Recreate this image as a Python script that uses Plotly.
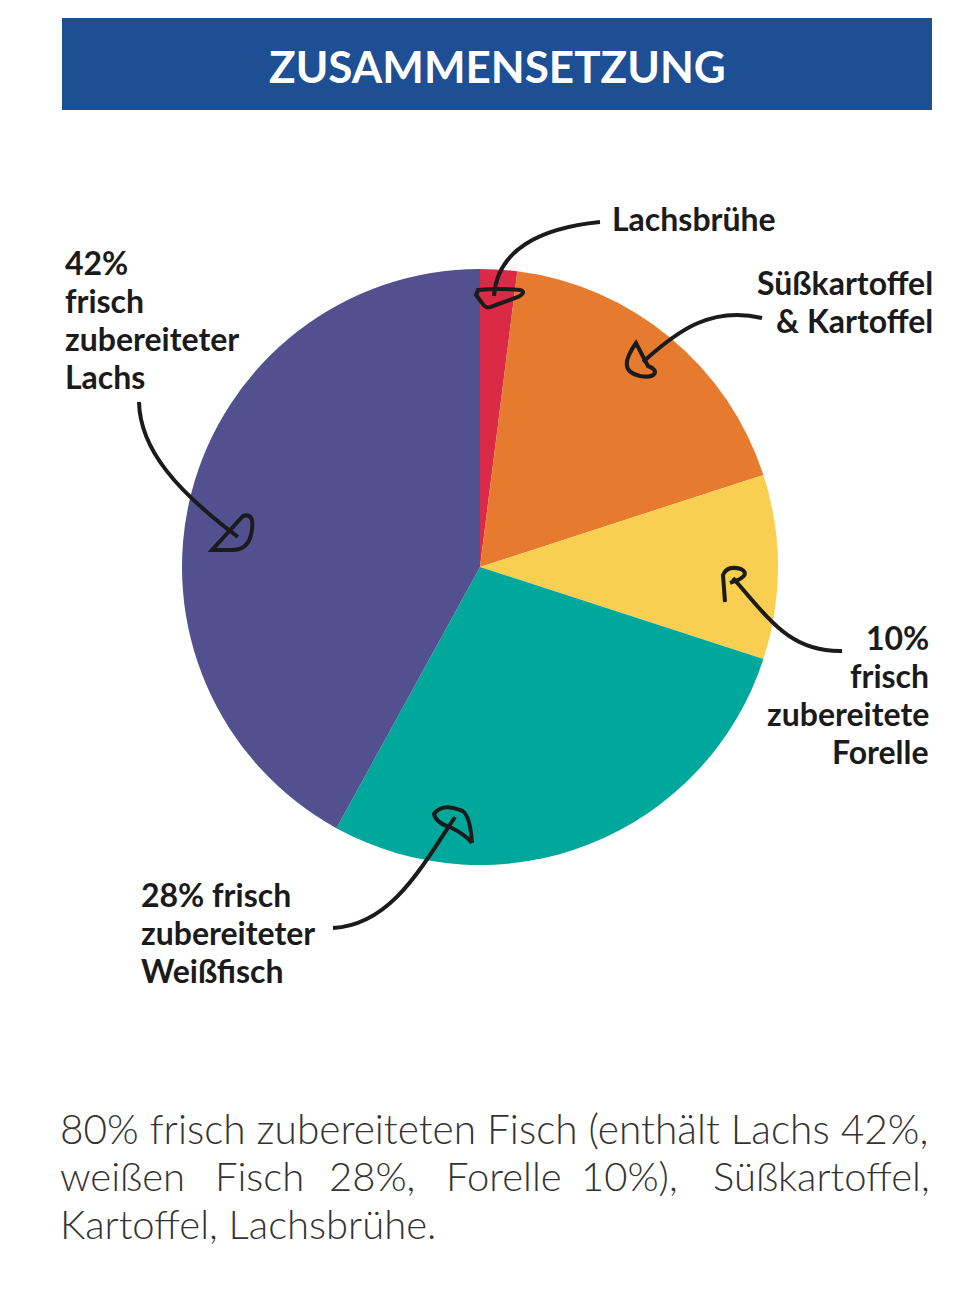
import plotly.graph_objects as go

W, H = 961, 1289
OFF = 8  # browser default body margin

# ---- data ----
categories = ["Lachsbrühe", "Süßkartoffel & Kartoffel", "frisch zubereitete Forelle",
              "frisch zubereiteter Weißfisch", "frisch zubereiteter Lachs"]
values = [2, 18, 10, 28, 42]
colors = ["#DA2A45", "#E67A2E", "#F8CF51", "#00A89C", "#52508E"]

title_text = "ZUSAMMENSETZUNG"
label_brühe = ["Lachsbrühe"]
label_kartoffel = ["Süßkartoffel", "& Kartoffel"]
label_lachs = ["42%", "frisch", "zubereiteter", "Lachs"]
label_forelle = ["10%", "frisch", "zubereitete", "Forelle"]
label_weiss = ["28% frisch", "zubereiteter", "Weißfisch"]
footer_line1 = "80% frisch zubereiteten Fisch (enthält Lachs 42%,"
footer_line2_words = ["weißen", "Fisch", "28%,", "Forelle", "10%),", "Süßkartoffel,"]
footer_line3 = "Kartoffel, Lachsbrühe."


def px(x):
    return (x - OFF) / W


def py(y):
    return 1 - (y - OFF) / H


def px_path(s):
    toks = s.replace(",", " ").split()
    out, nums = [], []
    for t in toks:
        if t.isalpha():
            out.append(t)
        else:
            nums.append(float(t))
            if len(nums) == 2:
                out.append(f"{px(nums[0]):.5f},{py(nums[1]):.5f}")
                nums = []
    return " ".join(out)


fig = go.Figure()
fig.add_trace(go.Pie(
    labels=categories, values=values, sort=False, direction="clockwise", rotation=0,
    marker=dict(colors=colors, line=dict(width=0)),
    textinfo="none", hoverinfo="label+percent", showlegend=False,
    domain=dict(x=[px(182), px(778)], y=[py(865), py(269)]),
))

shapes = [dict(type="rect", xref="paper", yref="paper",
               x0=px(62), x1=px(932), y0=py(110), y1=py(18),
               fillcolor="#1E4F94", line=dict(width=0), layer="below")]

arrow_paths = [
    # Lachsbrühe
    "M 600 222 C 540 228 497 250 494 296",
    "M 478 290 Q 500 288 520 290 Q 527 292 518 297 L 490 307 Q 486 309 482 303 L 476 295 Z",
    # Süßkartoffel
    "M 762 318 C 712 306 678 330 643 362",
    "M 636 343 C 624 360 622 372 640 376 C 656 379 660 370 648 366 L 636 343 Z",
    # Lachs
    "M 139 402 C 140 450 178 492 238 537",
    "M 212 550 L 243 516 Q 256 512 251 535 Q 247 551 230 550 Z",
    # Forelle
    "M 842 651 C 790 652 770 620 733 578",
    "M 725 602 L 723 575 Q 727 565 741 569 Q 750 574 738 580 L 730 583",
    # Weißfisch
    "M 333 928 C 390 925 420 870 455 817",
    "M 472 843 Q 470 812 460 810 Q 442 803 434 814 Q 436 823 450 827 Q 466 835 472 843",
]
for p in arrow_paths:
    shapes.append(dict(type="path", xref="paper", yref="paper", path=px_path(p),
                       line=dict(color="#1B1B1B", width=4), fillcolor="rgba(0,0,0,0)"))

LBL = dict(family="Lato", size=32, color="#1B1B1B", weight="bold")
annotations = [
    dict(text=title_text, x=px(497), y=py(66), xanchor="center", yanchor="middle",
         font=dict(family="Lato", size=44, color="white", weight="bold")),
]


def add_block(lines, x, y0, anchor, step=38.3):
    for i, t in enumerate(lines):
        annotations.append(dict(text=t, x=px(x), y=py(y0 + i * step), xanchor=anchor,
                                yanchor="middle", font=LBL))


add_block(label_brühe, 610, 218, "left")
add_block(label_kartoffel, 935, 282, "right")
add_block(label_lachs, 63, 262, "left")
add_block(label_forelle, 931, 637, "right")
add_block(label_weiss, 139, 894, "left")

FT = dict(family="Lato", size=40, color="#333333", weight=300)
FT1 = dict(FT, size=40.6)
annotations.append(dict(text=footer_line1, x=px(58), y=py(1128), xanchor="left",
                        yanchor="middle", font=FT1))
word_x = [58, 213, 327, 444, 579, 710]
for i, (w, x) in enumerate(zip(footer_line2_words, word_x)):
    if i == len(footer_line2_words) - 1:
        annotations.append(dict(text=w, x=px(932), y=py(1176), xanchor="right",
                                yanchor="middle", font=FT))
    else:
        annotations.append(dict(text=w, x=px(x), y=py(1176), xanchor="left",
                                yanchor="middle", font=FT))
annotations.append(dict(text=footer_line3, x=px(58), y=py(1224), xanchor="left",
                        yanchor="middle", font=FT))

for a in annotations:
    a.update(xref="paper", yref="paper", showarrow=False)

fig.update_layout(width=W, height=H, margin=dict(l=0, r=0, t=0, b=0),
                  paper_bgcolor="white", plot_bgcolor="white",
                  shapes=shapes, annotations=annotations)

fig.write_html("out.html")
